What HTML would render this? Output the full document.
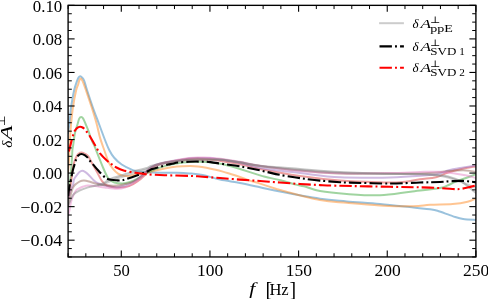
<!DOCTYPE html><html><head><meta charset="utf-8"><style>html,body{margin:0;padding:0;background:#fff;width:488px;height:299px;overflow:hidden}svg{display:block}</style></head><body><svg width="488" height="299" viewBox="0 0 488 299"><rect x="0" y="0" width="488" height="299" fill="#fff"/><defs><clipPath id="ax"><rect x="68.10" y="5.35" width="407.80" height="251.60"/></clipPath></defs><g clip-path="url(#ax)" fill="none" stroke-linejoin="round"><path d="M68.00,133.00 C68.20,131.67 68.83,127.83 69.20,125.00 C69.57,122.17 69.88,119.00 70.20,116.00 C70.52,113.00 70.43,111.33 71.10,107.00 C71.77,102.67 73.22,94.33 74.20,90.00 C75.18,85.67 76.28,83.07 77.00,81.00 C77.72,78.93 77.95,78.39 78.50,77.60 C79.05,76.81 79.68,76.25 80.30,76.25 C80.92,76.25 81.53,76.81 82.20,77.60 C82.87,78.39 83.50,78.93 84.30,81.00 C85.10,83.07 85.60,85.67 87.00,90.00 C88.40,94.33 90.70,101.33 92.70,107.00 C94.70,112.67 96.95,118.50 99.00,124.00 C101.05,129.50 103.30,135.67 105.00,140.00 C106.70,144.33 107.70,147.08 109.20,150.00 C110.70,152.92 111.92,155.08 114.00,157.50 C116.08,159.92 118.58,162.40 121.70,164.50 C124.82,166.60 129.82,168.92 132.70,170.10 C135.58,171.28 136.78,171.27 139.00,171.60 C141.22,171.93 143.60,171.93 146.00,172.10 C148.40,172.27 150.30,172.48 153.40,172.60 C156.50,172.72 160.68,172.77 164.60,172.80 C168.52,172.83 172.80,172.70 176.90,172.80 C181.00,172.90 184.92,173.03 189.20,173.40 C193.48,173.77 197.47,173.97 202.60,175.00 C207.73,176.03 213.77,178.27 220.00,179.60 C226.23,180.93 233.33,181.73 240.00,183.00 C246.67,184.27 253.33,185.77 260.00,187.20 C266.67,188.63 270.00,189.68 280.00,191.60 C290.00,193.52 308.87,197.07 320.00,198.70 C331.13,200.33 336.80,200.50 346.80,201.40 C356.80,202.30 368.90,203.07 380.00,204.10 C391.10,205.13 405.07,206.73 413.40,207.60 C421.73,208.47 425.98,208.77 430.00,209.30 C434.02,209.83 433.73,209.67 437.50,210.80 C441.27,211.93 448.33,214.72 452.60,216.10 C456.87,217.48 459.20,218.47 463.10,219.10 C467.00,219.73 473.85,219.77 476.00,219.90" stroke="#1f77b4" stroke-width="2.00" stroke-opacity="0.45" stroke-linecap="round"/><path d="M68.00,172.00 C68.10,171.00 68.42,168.33 68.60,166.00 C68.78,163.67 68.95,161.00 69.10,158.00 C69.25,155.00 69.32,151.67 69.50,148.00 C69.68,144.33 69.93,140.00 70.20,136.00 C70.47,132.00 70.63,128.83 71.10,124.00 C71.57,119.17 72.15,112.67 73.00,107.00 C73.85,101.33 75.35,93.72 76.20,90.00 C77.05,86.28 77.58,86.30 78.10,84.70 C78.62,83.10 78.87,81.42 79.30,80.40 C79.73,79.38 80.22,78.60 80.70,78.60 C81.18,78.60 81.65,79.38 82.20,80.40 C82.75,81.42 83.38,83.10 84.00,84.70 C84.62,86.30 84.63,86.28 85.90,90.00 C87.17,93.72 89.80,101.33 91.60,107.00 C93.40,112.67 95.30,118.90 96.70,124.00 C98.10,129.10 98.75,133.27 100.00,137.60 C101.25,141.93 102.75,145.88 104.20,150.00 C105.65,154.12 107.23,159.17 108.70,162.30 C110.17,165.43 111.45,166.92 113.00,168.80 C114.55,170.68 116.42,172.47 118.00,173.60 C119.58,174.73 120.77,175.20 122.50,175.60 C124.23,176.00 125.98,176.22 128.40,176.00 C130.82,175.78 133.95,174.92 137.00,174.30 C140.05,173.68 144.20,172.78 146.70,172.30 C149.20,171.82 149.02,172.03 152.00,171.40 C154.98,170.77 160.45,169.30 164.60,168.50 C168.75,167.70 172.67,167.00 176.90,166.60 C181.13,166.20 186.48,166.12 190.00,166.10 C193.52,166.08 195.27,166.23 198.00,166.50 C200.73,166.77 203.63,167.20 206.40,167.70 C209.17,168.20 211.87,168.85 214.60,169.50 C217.33,170.15 220.23,170.88 222.80,171.60 C225.37,172.32 227.13,172.90 230.00,173.80 C232.87,174.70 236.67,175.87 240.00,177.00 C243.33,178.13 246.67,179.50 250.00,180.60 C253.33,181.70 255.83,182.28 260.00,183.60 C264.17,184.92 271.67,187.43 275.00,188.50 C278.33,189.57 272.50,188.08 280.00,190.00 C287.50,191.92 308.87,197.87 320.00,200.00 C331.13,202.13 336.80,201.90 346.80,202.80 C356.80,203.70 368.90,204.82 380.00,205.40 C391.10,205.98 405.07,206.40 413.40,206.30 C421.73,206.20 423.47,205.17 430.00,204.80 C436.53,204.43 446.33,204.60 452.60,204.10 C458.87,203.60 463.70,202.73 467.60,201.80 C471.50,200.87 474.60,199.05 476.00,198.50" stroke="#ff7f0e" stroke-width="2.00" stroke-opacity="0.45" stroke-linecap="round"/><path d="M68.20,192.00 C68.48,190.50 69.42,186.67 69.90,183.00 C70.38,179.33 70.75,174.17 71.10,170.00 C71.45,165.83 71.78,161.33 72.00,158.00 C72.22,154.67 72.20,152.17 72.40,150.00 C72.60,147.83 72.87,147.33 73.20,145.00 C73.53,142.67 74.07,138.17 74.40,136.00 C74.73,133.83 74.67,134.00 75.20,132.00 C75.73,130.00 76.93,126.23 77.60,124.00 C78.27,121.77 78.60,119.77 79.20,118.60 C79.80,117.43 80.53,117.00 81.20,117.00 C81.87,117.00 82.47,117.43 83.20,118.60 C83.93,119.77 84.65,121.77 85.60,124.00 C86.55,126.23 88.17,130.00 88.90,132.00 C89.63,134.00 89.40,134.33 90.00,136.00 C90.60,137.67 91.75,140.33 92.50,142.00 C93.25,143.67 93.38,143.30 94.50,146.00 C95.62,148.70 97.78,154.62 99.20,158.20 C100.62,161.78 101.72,164.53 103.00,167.50 C104.28,170.47 105.85,174.02 106.90,176.00 C107.95,177.98 108.07,178.32 109.30,179.40 C110.53,180.48 112.03,181.82 114.30,182.50 C116.57,183.18 120.28,183.58 122.90,183.50 C125.52,183.42 127.48,182.83 130.00,182.00 C132.52,181.17 135.33,179.92 138.00,178.50 C140.67,177.08 143.67,174.83 146.00,173.50 C148.33,172.17 150.07,171.37 152.00,170.50 C153.93,169.63 155.37,169.07 157.60,168.30 C159.83,167.53 162.00,166.75 165.40,165.90 C168.80,165.05 173.90,163.85 178.00,163.20 C182.10,162.55 186.33,162.23 190.00,162.00 C193.67,161.77 196.67,161.77 200.00,161.80 C203.33,161.83 206.88,161.90 210.00,162.20 C213.12,162.50 216.05,163.13 218.70,163.60 C221.35,164.07 223.68,164.50 225.90,165.00 C228.12,165.50 229.65,165.93 232.00,166.60 C234.35,167.27 235.33,167.53 240.00,169.00 C244.67,170.47 255.67,174.07 260.00,175.40 C264.33,176.73 262.55,176.18 266.00,177.00 C269.45,177.82 275.70,179.03 280.70,180.30 C285.70,181.57 292.12,183.60 296.00,184.60 C299.88,185.60 300.00,185.22 304.00,186.30 C308.00,187.38 312.87,189.82 320.00,191.10 C327.13,192.38 336.80,193.30 346.80,194.00 C356.80,194.70 369.38,195.68 380.00,195.30 C390.62,194.92 400.50,192.90 410.50,191.70 C420.50,190.50 433.75,189.17 440.00,188.10 C446.25,187.03 445.33,186.38 448.00,185.30 C450.67,184.22 451.33,183.43 456.00,181.60 C460.67,179.77 472.67,175.52 476.00,174.30" stroke="#2ca02c" stroke-width="2.00" stroke-opacity="0.45" stroke-linecap="round"/><path d="M68.30,198.00 C68.55,196.67 69.32,192.83 69.80,190.00 C70.28,187.17 70.78,184.00 71.20,181.00 C71.62,178.00 71.98,174.33 72.30,172.00 C72.62,169.67 72.72,168.83 73.10,167.00 C73.48,165.17 74.00,162.80 74.60,161.00 C75.20,159.20 76.05,157.40 76.70,156.20 C77.35,155.00 77.68,154.40 78.50,153.80 C79.32,153.20 80.43,152.57 81.60,152.60 C82.77,152.63 84.35,153.33 85.50,154.00 C86.65,154.67 87.38,155.02 88.50,156.60 C89.62,158.18 90.78,160.93 92.20,163.50 C93.62,166.07 95.37,169.05 97.00,172.00 C98.63,174.95 100.35,178.95 102.00,181.20 C103.65,183.45 104.43,184.47 106.90,185.50 C109.37,186.53 113.12,187.30 116.80,187.40 C120.48,187.50 125.47,187.17 129.00,186.10 C132.53,185.03 135.17,183.02 138.00,181.00 C140.83,178.98 143.67,176.17 146.00,174.00 C148.33,171.83 149.67,169.62 152.00,168.00 C154.33,166.38 156.67,165.33 160.00,164.30 C163.33,163.27 167.00,162.60 172.00,161.80 C177.00,161.00 183.67,159.83 190.00,159.50 C196.33,159.17 204.88,159.55 210.00,159.80 C215.12,160.05 215.70,160.27 220.70,161.00 C225.70,161.73 233.45,162.87 240.00,164.20 C246.55,165.53 250.00,167.03 260.00,169.00 C270.00,170.97 286.67,174.08 300.00,176.00 C313.33,177.92 326.67,179.45 340.00,180.50 C353.33,181.55 370.00,182.00 380.00,182.30 C390.00,182.60 393.33,182.80 400.00,182.30 C406.67,181.80 414.00,180.13 420.00,179.30 C426.00,178.47 431.33,178.43 436.00,177.30 C440.67,176.17 443.77,173.88 448.00,172.50 C452.23,171.12 456.73,170.02 461.40,169.00 C466.07,167.98 473.57,166.83 476.00,166.40" stroke="#d62728" stroke-width="2.00" stroke-opacity="0.45" stroke-linecap="round"/><path d="M68.00,200.00 C68.45,198.33 69.87,192.50 70.70,190.00 C71.53,187.50 72.45,186.77 73.00,185.00 C73.55,183.23 73.33,181.07 74.00,179.40 C74.67,177.73 76.08,176.23 77.00,175.00 C77.92,173.77 78.63,172.70 79.50,172.00 C80.37,171.30 81.28,170.83 82.20,170.80 C83.12,170.77 84.03,171.23 85.00,171.80 C85.97,172.37 86.70,172.93 88.00,174.20 C89.30,175.47 91.50,178.10 92.80,179.40 C94.10,180.70 94.47,181.18 95.80,182.00 C97.13,182.82 99.10,183.67 100.80,184.30 C102.50,184.93 103.33,185.30 106.00,185.80 C108.67,186.30 113.63,187.35 116.80,187.30 C119.97,187.25 122.30,186.38 125.00,185.50 C127.70,184.62 130.50,183.42 133.00,182.00 C135.50,180.58 137.83,178.75 140.00,177.00 C142.17,175.25 144.00,173.25 146.00,171.50 C148.00,169.75 149.67,167.83 152.00,166.50 C154.33,165.17 156.67,164.42 160.00,163.50 C163.33,162.58 169.00,161.53 172.00,161.00 C175.00,160.47 175.17,160.70 178.00,160.30 C180.83,159.90 185.33,158.97 189.00,158.60 C192.67,158.23 196.50,158.18 200.00,158.10 C203.50,158.02 206.55,157.82 210.00,158.10 C213.45,158.38 215.70,158.98 220.70,159.80 C225.70,160.62 233.45,161.63 240.00,163.00 C246.55,164.37 250.00,166.33 260.00,168.00 C270.00,169.67 286.67,171.45 300.00,173.00 C313.33,174.55 325.00,176.57 340.00,177.30 C355.00,178.03 376.55,177.65 390.00,177.40 C403.45,177.15 412.37,176.45 420.70,175.80 C429.03,175.15 435.45,174.38 440.00,173.50 C444.55,172.62 444.67,171.42 448.00,170.50 C451.33,169.58 455.33,168.83 460.00,168.00 C464.67,167.17 473.33,165.92 476.00,165.50" stroke="#9467bd" stroke-width="2.00" stroke-opacity="0.45" stroke-linecap="round"/><path d="M68.00,206.00 C68.33,204.67 69.33,200.67 70.00,198.00 C70.67,195.33 71.33,192.00 72.00,190.00 C72.67,188.00 73.33,187.00 74.00,186.00 C74.67,185.00 75.00,184.78 76.00,184.00 C77.00,183.22 78.67,181.87 80.00,181.30 C81.33,180.73 82.50,180.57 84.00,180.60 C85.50,180.63 87.10,181.03 89.00,181.50 C90.90,181.97 92.57,182.77 95.40,183.40 C98.23,184.03 102.43,184.93 106.00,185.30 C109.57,185.67 113.63,185.80 116.80,185.60 C119.97,185.40 122.30,184.70 125.00,184.10 C127.70,183.50 130.50,183.10 133.00,182.00 C135.50,180.90 137.83,179.17 140.00,177.50 C142.17,175.83 144.00,173.75 146.00,172.00 C148.00,170.25 149.67,168.37 152.00,167.00 C154.33,165.63 156.67,164.77 160.00,163.80 C163.33,162.83 167.17,162.03 172.00,161.20 C176.83,160.37 184.33,159.27 189.00,158.80 C193.67,158.33 194.72,158.28 200.00,158.40 C205.28,158.52 214.03,158.85 220.70,159.50 C227.37,160.15 233.45,161.22 240.00,162.30 C246.55,163.38 250.00,164.63 260.00,166.00 C270.00,167.37 286.67,169.25 300.00,170.50 C313.33,171.75 325.00,173.00 340.00,173.50 C355.00,174.00 376.67,173.50 390.00,173.50 C403.33,173.50 411.67,173.72 420.00,173.50 C428.33,173.28 435.33,172.62 440.00,172.20 C444.67,171.78 443.67,171.30 448.00,171.00 C452.33,170.70 461.33,170.23 466.00,170.40 C470.67,170.57 474.33,171.73 476.00,172.00" stroke="#8c564b" stroke-width="2.00" stroke-opacity="0.45" stroke-linecap="round"/><path d="M68.20,215.00 C68.42,214.17 69.03,212.17 69.50,210.00 C69.97,207.83 70.42,204.33 71.00,202.00 C71.58,199.67 72.17,197.92 73.00,196.00 C73.83,194.08 75.00,191.75 76.00,190.50 C77.00,189.25 77.77,189.17 79.00,188.50 C80.23,187.83 81.90,187.00 83.40,186.50 C84.90,186.00 86.00,185.58 88.00,185.50 C90.00,185.42 92.65,185.68 95.40,186.00 C98.15,186.32 100.93,186.93 104.50,187.40 C108.07,187.87 113.38,188.77 116.80,188.80 C120.22,188.83 122.30,188.48 125.00,187.60 C127.70,186.72 130.50,185.02 133.00,183.50 C135.50,181.98 137.83,180.33 140.00,178.50 C142.17,176.67 144.00,174.38 146.00,172.50 C148.00,170.62 149.67,168.62 152.00,167.20 C154.33,165.78 156.67,164.95 160.00,164.00 C163.33,163.05 169.00,162.20 172.00,161.50 C175.00,160.80 175.17,160.40 178.00,159.80 C180.83,159.20 185.33,158.27 189.00,157.90 C192.67,157.53 196.50,157.63 200.00,157.60 C203.50,157.57 206.55,157.52 210.00,157.70 C213.45,157.88 215.70,158.03 220.70,158.70 C225.70,159.37 233.45,160.53 240.00,161.70 C246.55,162.87 250.00,164.15 260.00,165.70 C270.00,167.25 286.67,169.73 300.00,171.00 C313.33,172.27 325.00,172.97 340.00,173.30 C355.00,173.63 376.67,173.22 390.00,173.00 C403.33,172.78 411.67,172.20 420.00,172.00 C428.33,171.80 434.00,171.52 440.00,171.80 C446.00,172.08 451.33,173.03 456.00,173.70 C460.67,174.37 464.67,175.08 468.00,175.80 C471.33,176.52 474.67,177.63 476.00,178.00" stroke="#e377c2" stroke-width="2.00" stroke-opacity="0.45" stroke-linecap="round"/><path d="M68.00,206.00 C68.58,204.67 70.50,200.00 71.50,198.00 C72.50,196.00 72.68,195.22 74.00,194.00 C75.32,192.78 77.07,191.80 79.40,190.70 C81.73,189.60 84.85,188.35 88.00,187.40 C91.15,186.45 95.63,185.73 98.30,185.00 C100.97,184.27 101.95,184.03 104.00,183.00 C106.05,181.97 107.45,180.13 110.60,178.80 C113.75,177.47 118.80,176.33 122.90,175.00 C127.00,173.67 131.35,171.92 135.20,170.80 C139.05,169.68 143.20,169.13 146.00,168.30 C148.80,167.47 148.83,166.72 152.00,165.80 C155.17,164.88 160.83,163.60 165.00,162.80 C169.17,162.00 172.83,161.52 177.00,161.00 C181.17,160.48 184.50,159.93 190.00,159.70 C195.50,159.47 204.88,159.60 210.00,159.60 C215.12,159.60 215.70,159.25 220.70,159.70 C225.70,160.15 233.45,161.28 240.00,162.30 C246.55,163.32 250.00,164.68 260.00,165.80 C270.00,166.92 286.67,167.97 300.00,169.00 C313.33,170.03 325.00,171.20 340.00,172.00 C355.00,172.80 376.67,173.47 390.00,173.80 C403.33,174.13 412.33,173.80 420.00,174.00 C427.67,174.20 431.33,174.58 436.00,175.00 C440.67,175.42 443.77,175.38 448.00,176.50 C452.23,177.62 456.73,178.95 461.40,181.70 C466.07,184.45 473.57,191.12 476.00,193.00" stroke="#7f7f7f" stroke-width="2.00" stroke-opacity="0.45" stroke-linecap="round"/><path d="M98.30,185.50 C99.25,185.28 101.95,184.95 104.00,184.20 C106.05,183.45 108.60,181.93 110.60,181.00 C112.60,180.07 113.95,179.30 116.00,178.60 C118.05,177.90 119.70,177.80 122.90,176.80 C126.10,175.80 131.35,173.80 135.20,172.60 C139.05,171.40 143.20,170.50 146.00,169.60 C148.80,168.70 148.83,168.20 152.00,167.20 C155.17,166.20 160.83,164.58 165.00,163.60 C169.17,162.62 172.83,161.87 177.00,161.30 C181.17,160.73 184.50,160.40 190.00,160.20 C195.50,160.00 204.88,160.20 210.00,160.10 C215.12,160.00 215.70,159.23 220.70,159.60 C225.70,159.97 233.45,161.23 240.00,162.30 C246.55,163.37 250.00,164.72 260.00,166.00 C270.00,167.28 286.67,168.87 300.00,170.00 C313.33,171.13 325.00,172.13 340.00,172.80 C355.00,173.47 376.67,173.77 390.00,174.00 C403.33,174.23 412.33,173.98 420.00,174.20 C427.67,174.42 431.33,174.75 436.00,175.30 C440.67,175.85 444.00,176.47 448.00,177.50 C452.00,178.53 455.33,179.75 460.00,181.50 C464.67,183.25 473.33,186.92 476.00,188.00" stroke="#7f7f7f" stroke-width="2.00" stroke-opacity="0.35" stroke-linecap="round"/><path d="M68.20,196.00 C68.33,194.83 68.58,191.57 69.00,189.00 C69.42,186.43 70.05,183.77 70.70,180.60 C71.35,177.43 72.28,172.62 72.90,170.00 C73.52,167.38 73.90,166.57 74.40,164.90 C74.90,163.23 75.30,161.52 75.90,160.00 C76.50,158.48 77.05,156.80 78.00,155.80 C78.95,154.80 80.33,154.00 81.60,154.00 C82.87,154.00 84.58,155.20 85.60,155.80 C86.62,156.40 86.95,156.73 87.70,157.60 C88.45,158.47 89.15,159.78 90.10,161.00 C91.05,162.22 92.00,163.27 93.40,164.90 C94.80,166.53 96.72,168.85 98.50,170.80 C100.28,172.75 102.45,175.18 104.10,176.60 C105.75,178.02 106.30,178.68 108.40,179.30 C110.50,179.92 114.38,180.13 116.70,180.30 C119.02,180.47 120.42,180.60 122.30,180.30 C124.18,180.00 125.72,179.27 128.00,178.50 C130.28,177.73 132.88,176.83 136.00,175.70 C139.12,174.57 144.03,172.80 146.70,171.70 C149.37,170.60 150.20,169.80 152.00,169.10 C153.80,168.40 155.83,167.97 157.50,167.50 C159.17,167.03 160.25,166.78 162.00,166.30 C163.75,165.82 166.33,165.02 168.00,164.60 C169.67,164.18 170.33,164.15 172.00,163.80 C173.67,163.45 175.17,162.85 178.00,162.50 C180.83,162.15 185.33,161.85 189.00,161.70 C192.67,161.55 196.42,161.53 200.00,161.60 C203.58,161.67 206.67,161.70 210.50,162.10 C214.33,162.50 218.08,163.28 223.00,164.00 C227.92,164.72 233.83,165.33 240.00,166.40 C246.17,167.47 255.42,169.45 260.00,170.40 C264.58,171.35 264.17,171.35 267.50,172.10 C270.83,172.85 275.25,174.00 280.00,174.90 C284.75,175.80 292.00,176.87 296.00,177.50 C300.00,178.13 300.00,178.18 304.00,178.70 C308.00,179.22 314.00,180.02 320.00,180.60 C326.00,181.18 335.00,181.87 340.00,182.20 C345.00,182.53 341.67,182.38 350.00,182.60 C358.33,182.82 378.33,183.52 390.00,183.50 C401.67,183.48 411.67,182.75 420.00,182.50 C428.33,182.25 435.00,182.20 440.00,182.00 C445.00,181.80 446.17,181.48 450.00,181.30 C453.83,181.12 458.67,180.72 463.00,180.90 C467.33,181.08 473.83,182.15 476.00,182.40" stroke="#000000" stroke-width="2.10" stroke-dasharray="12.41 3.10 1.94 3.10" stroke-dashoffset="0.36" stroke-linecap="butt"/><path d="M68.00,154.00 C68.17,153.48 68.42,153.07 69.00,150.90 C69.58,148.73 70.80,143.65 71.50,141.00 C72.20,138.35 72.70,136.62 73.20,135.00 C73.70,133.38 73.82,132.48 74.50,131.30 C75.18,130.12 76.38,128.65 77.30,127.90 C78.22,127.15 79.12,126.87 80.00,126.80 C80.88,126.73 81.83,127.10 82.60,127.50 C83.37,127.90 83.95,128.53 84.60,129.20 C85.25,129.87 85.72,130.48 86.50,131.50 C87.28,132.52 87.92,133.08 89.30,135.30 C90.68,137.52 93.02,141.78 94.80,144.80 C96.58,147.82 98.08,150.87 100.00,153.40 C101.92,155.93 104.33,158.17 106.30,160.00 C108.27,161.83 110.18,163.20 111.80,164.40 C113.42,165.60 114.15,166.22 116.00,167.20 C117.85,168.18 119.70,169.37 122.90,170.30 C126.10,171.23 131.35,172.15 135.20,172.80 C139.05,173.45 141.10,173.80 146.00,174.20 C150.90,174.60 157.27,174.92 164.60,175.20 C171.93,175.48 183.67,175.65 190.00,175.90 C196.33,176.15 197.60,176.35 202.60,176.70 C207.60,177.05 213.77,177.52 220.00,178.00 C226.23,178.48 233.33,179.10 240.00,179.60 C246.67,180.10 253.33,180.52 260.00,181.00 C266.67,181.48 273.33,182.00 280.00,182.50 C286.67,183.00 293.33,183.57 300.00,184.00 C306.67,184.43 313.33,184.80 320.00,185.10 C326.67,185.40 328.33,185.52 340.00,185.80 C351.67,186.08 375.00,186.50 390.00,186.80 C405.00,187.10 419.57,187.23 430.00,187.60 C440.43,187.97 447.60,188.77 452.60,189.00 C457.60,189.23 457.50,189.25 460.00,189.00 C462.50,188.75 464.93,188.12 467.60,187.50 C470.27,186.88 474.60,185.67 476.00,185.30" stroke="#ff0000" stroke-width="2.10" stroke-dasharray="12.41 3.10 1.94 3.10" stroke-dashoffset="17.73" stroke-linecap="butt"/></g><rect x="68.10" y="5.35" width="407.80" height="251.60" fill="none" stroke="#000" stroke-width="1.35"/><g stroke="#000"><line x1="68.10" y1="256.95" x2="68.10" y2="253.25" stroke-width="1.00"/><line x1="68.10" y1="5.35" x2="68.10" y2="9.05" stroke-width="1.00"/><line x1="85.83" y1="256.95" x2="85.83" y2="253.25" stroke-width="1.00"/><line x1="85.83" y1="5.35" x2="85.83" y2="9.05" stroke-width="1.00"/><line x1="103.56" y1="256.95" x2="103.56" y2="253.25" stroke-width="1.00"/><line x1="103.56" y1="5.35" x2="103.56" y2="9.05" stroke-width="1.00"/><line x1="121.29" y1="256.95" x2="121.29" y2="250.45" stroke-width="1.10"/><line x1="121.29" y1="5.35" x2="121.29" y2="11.85" stroke-width="1.10"/><line x1="139.02" y1="256.95" x2="139.02" y2="253.25" stroke-width="1.00"/><line x1="139.02" y1="5.35" x2="139.02" y2="9.05" stroke-width="1.00"/><line x1="156.75" y1="256.95" x2="156.75" y2="253.25" stroke-width="1.00"/><line x1="156.75" y1="5.35" x2="156.75" y2="9.05" stroke-width="1.00"/><line x1="174.48" y1="256.95" x2="174.48" y2="253.25" stroke-width="1.00"/><line x1="174.48" y1="5.35" x2="174.48" y2="9.05" stroke-width="1.00"/><line x1="192.21" y1="256.95" x2="192.21" y2="253.25" stroke-width="1.00"/><line x1="192.21" y1="5.35" x2="192.21" y2="9.05" stroke-width="1.00"/><line x1="209.94" y1="256.95" x2="209.94" y2="250.45" stroke-width="1.10"/><line x1="209.94" y1="5.35" x2="209.94" y2="11.85" stroke-width="1.10"/><line x1="227.67" y1="256.95" x2="227.67" y2="253.25" stroke-width="1.00"/><line x1="227.67" y1="5.35" x2="227.67" y2="9.05" stroke-width="1.00"/><line x1="245.40" y1="256.95" x2="245.40" y2="253.25" stroke-width="1.00"/><line x1="245.40" y1="5.35" x2="245.40" y2="9.05" stroke-width="1.00"/><line x1="263.13" y1="256.95" x2="263.13" y2="253.25" stroke-width="1.00"/><line x1="263.13" y1="5.35" x2="263.13" y2="9.05" stroke-width="1.00"/><line x1="280.87" y1="256.95" x2="280.87" y2="253.25" stroke-width="1.00"/><line x1="280.87" y1="5.35" x2="280.87" y2="9.05" stroke-width="1.00"/><line x1="298.60" y1="256.95" x2="298.60" y2="250.45" stroke-width="1.10"/><line x1="298.60" y1="5.35" x2="298.60" y2="11.85" stroke-width="1.10"/><line x1="316.33" y1="256.95" x2="316.33" y2="253.25" stroke-width="1.00"/><line x1="316.33" y1="5.35" x2="316.33" y2="9.05" stroke-width="1.00"/><line x1="334.06" y1="256.95" x2="334.06" y2="253.25" stroke-width="1.00"/><line x1="334.06" y1="5.35" x2="334.06" y2="9.05" stroke-width="1.00"/><line x1="351.79" y1="256.95" x2="351.79" y2="253.25" stroke-width="1.00"/><line x1="351.79" y1="5.35" x2="351.79" y2="9.05" stroke-width="1.00"/><line x1="369.52" y1="256.95" x2="369.52" y2="253.25" stroke-width="1.00"/><line x1="369.52" y1="5.35" x2="369.52" y2="9.05" stroke-width="1.00"/><line x1="387.25" y1="256.95" x2="387.25" y2="250.45" stroke-width="1.10"/><line x1="387.25" y1="5.35" x2="387.25" y2="11.85" stroke-width="1.10"/><line x1="404.98" y1="256.95" x2="404.98" y2="253.25" stroke-width="1.00"/><line x1="404.98" y1="5.35" x2="404.98" y2="9.05" stroke-width="1.00"/><line x1="422.71" y1="256.95" x2="422.71" y2="253.25" stroke-width="1.00"/><line x1="422.71" y1="5.35" x2="422.71" y2="9.05" stroke-width="1.00"/><line x1="440.44" y1="256.95" x2="440.44" y2="253.25" stroke-width="1.00"/><line x1="440.44" y1="5.35" x2="440.44" y2="9.05" stroke-width="1.00"/><line x1="458.17" y1="256.95" x2="458.17" y2="253.25" stroke-width="1.00"/><line x1="458.17" y1="5.35" x2="458.17" y2="9.05" stroke-width="1.00"/><line x1="475.90" y1="256.95" x2="475.90" y2="250.45" stroke-width="1.10"/><line x1="475.90" y1="5.35" x2="475.90" y2="11.85" stroke-width="1.10"/><line x1="68.10" y1="256.95" x2="71.80" y2="256.95" stroke-width="1.00"/><line x1="475.90" y1="256.95" x2="472.20" y2="256.95" stroke-width="1.00"/><line x1="68.10" y1="248.56" x2="71.80" y2="248.56" stroke-width="1.00"/><line x1="475.90" y1="248.56" x2="472.20" y2="248.56" stroke-width="1.00"/><line x1="68.10" y1="240.18" x2="74.60" y2="240.18" stroke-width="1.10"/><line x1="475.90" y1="240.18" x2="469.40" y2="240.18" stroke-width="1.10"/><line x1="68.10" y1="231.79" x2="71.80" y2="231.79" stroke-width="1.00"/><line x1="475.90" y1="231.79" x2="472.20" y2="231.79" stroke-width="1.00"/><line x1="68.10" y1="223.40" x2="71.80" y2="223.40" stroke-width="1.00"/><line x1="475.90" y1="223.40" x2="472.20" y2="223.40" stroke-width="1.00"/><line x1="68.10" y1="215.02" x2="71.80" y2="215.02" stroke-width="1.00"/><line x1="475.90" y1="215.02" x2="472.20" y2="215.02" stroke-width="1.00"/><line x1="68.10" y1="206.63" x2="74.60" y2="206.63" stroke-width="1.10"/><line x1="475.90" y1="206.63" x2="469.40" y2="206.63" stroke-width="1.10"/><line x1="68.10" y1="198.24" x2="71.80" y2="198.24" stroke-width="1.00"/><line x1="475.90" y1="198.24" x2="472.20" y2="198.24" stroke-width="1.00"/><line x1="68.10" y1="189.86" x2="71.80" y2="189.86" stroke-width="1.00"/><line x1="475.90" y1="189.86" x2="472.20" y2="189.86" stroke-width="1.00"/><line x1="68.10" y1="181.47" x2="71.80" y2="181.47" stroke-width="1.00"/><line x1="475.90" y1="181.47" x2="472.20" y2="181.47" stroke-width="1.00"/><line x1="68.10" y1="173.08" x2="74.60" y2="173.08" stroke-width="1.10"/><line x1="475.90" y1="173.08" x2="469.40" y2="173.08" stroke-width="1.10"/><line x1="68.10" y1="164.70" x2="71.80" y2="164.70" stroke-width="1.00"/><line x1="475.90" y1="164.70" x2="472.20" y2="164.70" stroke-width="1.00"/><line x1="68.10" y1="156.31" x2="71.80" y2="156.31" stroke-width="1.00"/><line x1="475.90" y1="156.31" x2="472.20" y2="156.31" stroke-width="1.00"/><line x1="68.10" y1="147.92" x2="71.80" y2="147.92" stroke-width="1.00"/><line x1="475.90" y1="147.92" x2="472.20" y2="147.92" stroke-width="1.00"/><line x1="68.10" y1="139.54" x2="74.60" y2="139.54" stroke-width="1.10"/><line x1="475.90" y1="139.54" x2="469.40" y2="139.54" stroke-width="1.10"/><line x1="68.10" y1="131.15" x2="71.80" y2="131.15" stroke-width="1.00"/><line x1="475.90" y1="131.15" x2="472.20" y2="131.15" stroke-width="1.00"/><line x1="68.10" y1="122.76" x2="71.80" y2="122.76" stroke-width="1.00"/><line x1="475.90" y1="122.76" x2="472.20" y2="122.76" stroke-width="1.00"/><line x1="68.10" y1="114.38" x2="71.80" y2="114.38" stroke-width="1.00"/><line x1="475.90" y1="114.38" x2="472.20" y2="114.38" stroke-width="1.00"/><line x1="68.10" y1="105.99" x2="74.60" y2="105.99" stroke-width="1.10"/><line x1="475.90" y1="105.99" x2="469.40" y2="105.99" stroke-width="1.10"/><line x1="68.10" y1="97.60" x2="71.80" y2="97.60" stroke-width="1.00"/><line x1="475.90" y1="97.60" x2="472.20" y2="97.60" stroke-width="1.00"/><line x1="68.10" y1="89.22" x2="71.80" y2="89.22" stroke-width="1.00"/><line x1="475.90" y1="89.22" x2="472.20" y2="89.22" stroke-width="1.00"/><line x1="68.10" y1="80.83" x2="71.80" y2="80.83" stroke-width="1.00"/><line x1="475.90" y1="80.83" x2="472.20" y2="80.83" stroke-width="1.00"/><line x1="68.10" y1="72.44" x2="74.60" y2="72.44" stroke-width="1.10"/><line x1="475.90" y1="72.44" x2="469.40" y2="72.44" stroke-width="1.10"/><line x1="68.10" y1="64.06" x2="71.80" y2="64.06" stroke-width="1.00"/><line x1="475.90" y1="64.06" x2="472.20" y2="64.06" stroke-width="1.00"/><line x1="68.10" y1="55.67" x2="71.80" y2="55.67" stroke-width="1.00"/><line x1="475.90" y1="55.67" x2="472.20" y2="55.67" stroke-width="1.00"/><line x1="68.10" y1="47.28" x2="71.80" y2="47.28" stroke-width="1.00"/><line x1="475.90" y1="47.28" x2="472.20" y2="47.28" stroke-width="1.00"/><line x1="68.10" y1="38.90" x2="74.60" y2="38.90" stroke-width="1.10"/><line x1="475.90" y1="38.90" x2="469.40" y2="38.90" stroke-width="1.10"/><line x1="68.10" y1="30.51" x2="71.80" y2="30.51" stroke-width="1.00"/><line x1="475.90" y1="30.51" x2="472.20" y2="30.51" stroke-width="1.00"/><line x1="68.10" y1="22.12" x2="71.80" y2="22.12" stroke-width="1.00"/><line x1="475.90" y1="22.12" x2="472.20" y2="22.12" stroke-width="1.00"/><line x1="68.10" y1="13.74" x2="71.80" y2="13.74" stroke-width="1.00"/><line x1="475.90" y1="13.74" x2="472.20" y2="13.74" stroke-width="1.00"/><line x1="68.10" y1="5.35" x2="74.60" y2="5.35" stroke-width="1.10"/><line x1="475.90" y1="5.35" x2="469.40" y2="5.35" stroke-width="1.10"/></g><g font-family="Liberation Serif, serif" font-size="16.6" fill="#000"><text x="121.59" y="276.0" text-anchor="middle" textLength="16.60" lengthAdjust="spacingAndGlyphs">50</text><text x="210.24" y="276.0" text-anchor="middle" textLength="26.20" lengthAdjust="spacingAndGlyphs">100</text><text x="298.90" y="276.0" text-anchor="middle" textLength="26.20" lengthAdjust="spacingAndGlyphs">150</text><text x="387.55" y="276.0" text-anchor="middle" textLength="26.20" lengthAdjust="spacingAndGlyphs">200</text><text x="476.20" y="276.0" text-anchor="middle" textLength="26.20" lengthAdjust="spacingAndGlyphs">250</text><text x="62.30" y="246.38" text-anchor="end" textLength="42.00" lengthAdjust="spacingAndGlyphs">−0.04</text><text x="62.30" y="212.83" text-anchor="end" textLength="42.00" lengthAdjust="spacingAndGlyphs">−0.02</text><text x="62.30" y="179.28" text-anchor="end" textLength="29.50" lengthAdjust="spacingAndGlyphs">0.00</text><text x="62.30" y="145.74" text-anchor="end" textLength="29.50" lengthAdjust="spacingAndGlyphs">0.02</text><text x="62.30" y="112.19" text-anchor="end" textLength="29.50" lengthAdjust="spacingAndGlyphs">0.04</text><text x="62.30" y="78.64" text-anchor="end" textLength="29.50" lengthAdjust="spacingAndGlyphs">0.06</text><text x="62.30" y="45.10" text-anchor="end" textLength="29.50" lengthAdjust="spacingAndGlyphs">0.08</text><text x="62.30" y="11.55" text-anchor="end" textLength="29.50" lengthAdjust="spacingAndGlyphs">0.10</text></g><text transform="translate(249.30,294.00) scale(1.30,1)" font-family="Liberation Serif, serif" font-size="16.6" font-style="italic">f</text><text x="265.60" y="296.00" font-family="Liberation Serif, serif" font-size="20.0">[</text><text x="269.40" y="295.4" font-family="Liberation Serif, serif" font-size="16.6">Hz</text><text x="289.60" y="296.00" font-family="Liberation Serif, serif" font-size="20.0">]</text><g transform="translate(11.7,131.5) rotate(-90)" font-family="Liberation Serif, serif"><text x="-16.30" y="0" font-size="15.2" font-style="italic">δ</text><text x="-8.60" y="0" font-size="16.6" font-style="italic" textLength="14.50" lengthAdjust="spacingAndGlyphs">A</text><text x="5.50" y="-6.5" font-size="12">⊥</text></g><g><line x1="379.1" y1="23.2" x2="403.9" y2="23.2" stroke="#7f7f7f" stroke-opacity="0.4" stroke-width="2"/><line x1="379.5" y1="46.4" x2="403.9" y2="46.4" stroke="#000" stroke-width="2.1" stroke-dasharray="12.41 3.10 1.94 3.10"/><line x1="379.5" y1="67.7" x2="403.9" y2="67.7" stroke="#f00" stroke-width="2.1" stroke-dasharray="12.41 3.10 1.94 3.10"/><text x="412.6" y="27.80" font-family="Liberation Serif, serif" font-size="13" font-style="italic">δ</text><text x="420.4" y="27.80" font-family="Liberation Serif, serif" font-size="13" font-style="italic" textLength="10.6" lengthAdjust="spacingAndGlyphs">A</text><text x="429.9" y="22.90" font-family="DejaVu Serif, serif" font-size="9.5" textLength="10.4" lengthAdjust="spacingAndGlyphs">⊥</text><text x="430.3" y="31.70" font-family="Liberation Serif, serif" font-size="10.4" textLength="22.60" lengthAdjust="spacingAndGlyphs">ppE</text><text x="412.6" y="50.90" font-family="Liberation Serif, serif" font-size="13" font-style="italic">δ</text><text x="420.4" y="50.90" font-family="Liberation Serif, serif" font-size="13" font-style="italic" textLength="10.6" lengthAdjust="spacingAndGlyphs">A</text><text x="429.9" y="46.00" font-family="DejaVu Serif, serif" font-size="9.5" textLength="10.4" lengthAdjust="spacingAndGlyphs">⊥</text><text x="430.3" y="54.80" font-family="Liberation Serif, serif" font-size="10.4" textLength="26.00" lengthAdjust="spacingAndGlyphs">SVD</text><text x="459.3" y="54.80" font-family="Liberation Serif, serif" font-size="10.4" textLength="5.6" lengthAdjust="spacingAndGlyphs">1</text><text x="412.6" y="71.90" font-family="Liberation Serif, serif" font-size="13" font-style="italic">δ</text><text x="420.4" y="71.90" font-family="Liberation Serif, serif" font-size="13" font-style="italic" textLength="10.6" lengthAdjust="spacingAndGlyphs">A</text><text x="429.9" y="67.00" font-family="DejaVu Serif, serif" font-size="9.5" textLength="10.4" lengthAdjust="spacingAndGlyphs">⊥</text><text x="430.3" y="75.80" font-family="Liberation Serif, serif" font-size="10.4" textLength="26.00" lengthAdjust="spacingAndGlyphs">SVD</text><text x="459.3" y="75.80" font-family="Liberation Serif, serif" font-size="10.4" textLength="5.6" lengthAdjust="spacingAndGlyphs">2</text></g></svg></body></html>
